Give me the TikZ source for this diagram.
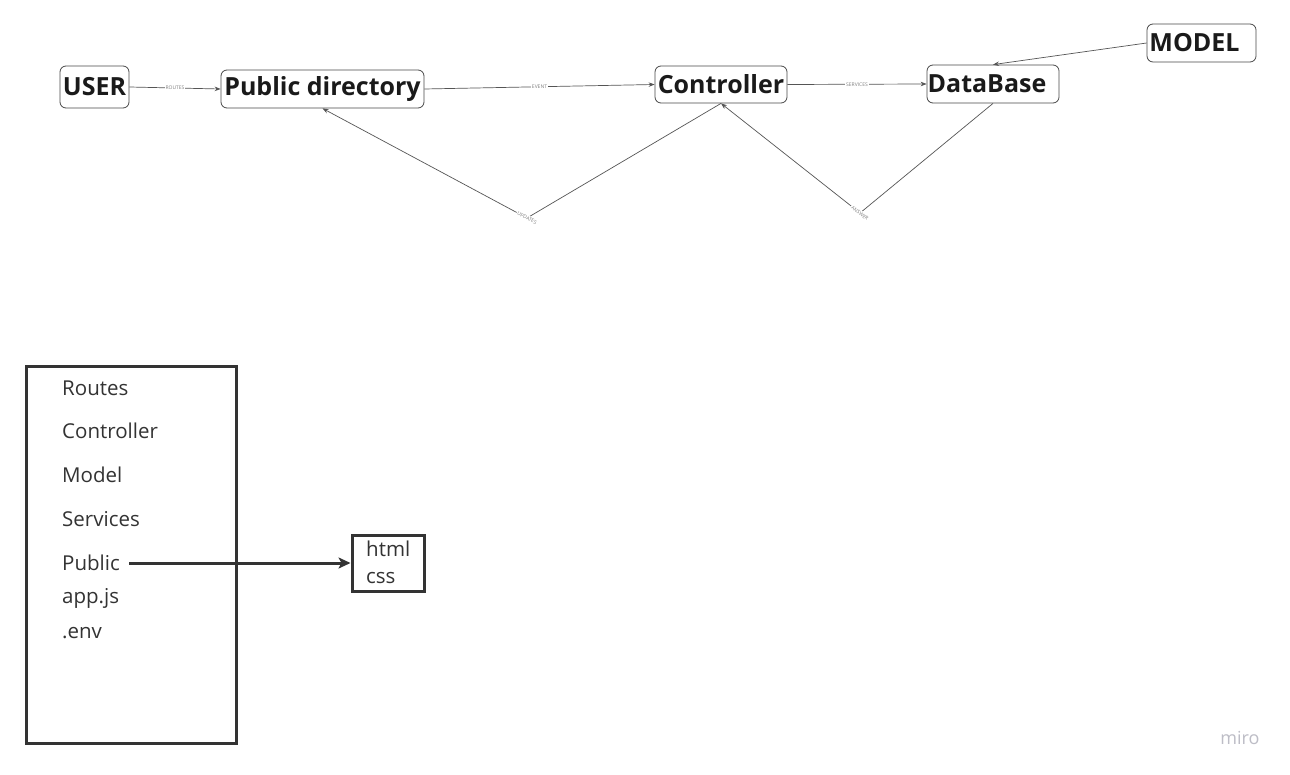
\documentclass[tikz,border=0pt]{standalone}
\usepackage{fontspec}
\setmainfont{Open Sans}
\usetikzlibrary{arrows.meta}
\definecolor{ink}{HTML}{1A1A1A}
\definecolor{edge}{HTML}{555555}
\definecolor{folder}{HTML}{333333}
\definecolor{wm}{HTML}{BDBDC6}
\tikzset{
  box/.style={draw=ink!80, line width=0.8pt, rounded corners=6pt, text=ink,
    font=\fontsize{25}{29}\selectfont\bfseries, inner sep=0pt},
  conn/.style={draw=edge, line width=0.7pt, -{Stealth[length=6pt,width=4.5pt]}},
  lbl/.style={font=\fontsize{5}{6}\selectfont, text=gray, fill=white, inner sep=1pt},
  item/.style={anchor=west, font=\fontsize{20.5}{24}\selectfont, text=folder, inner sep=0pt},
  thickbox/.style={draw=folder, line width=3pt, inner sep=0pt},
}
\begin{document}
\begin{tikzpicture}[x=1pt,y=-1pt]
\useasboundingbox[fill=white] (0,0) rectangle (1290,775);
% top nodes
\node[box, minimum width=69pt, minimum height=42pt] (user) at (94.5,87) {USER};
\node[box, minimum width=203pt, minimum height=38pt] (pub) at (322.5,89) {Public directory};
\node[box, minimum width=132pt, minimum height=37pt] (ctrl) at (721,84.5) {Controller};
\node[box, minimum width=132pt, minimum height=38pt] (db) at (993,84) {\hspace*{-12pt}DataBase};
\node[box, minimum width=109pt, minimum height=38pt] (model) at (1201.5,43) {\hspace*{-14pt}MODEL};
% bends
\coordinate (u) at (527,218);
\coordinate (a) at (860,213);
% connectors
\draw[conn] (user.east) -- node[lbl]{ROUTES} (pub.west);
\draw[conn] (pub.east) -- node[lbl]{EVENT} (ctrl.west);
\draw[conn] (ctrl.east) -- node[lbl]{SERVICES} (db.west);
\draw[conn] (model.west) -- (db.north);
\draw[conn] (ctrl.south) -- (u) -- (pub.south);
\draw[conn] (db.south) -- (a) -- (ctrl.south);
\node[lbl, rotate=-28] at (u) {UPDATES};
\node[lbl, rotate=-38] at (a) {ANSWER};
% folder box
\node[thickbox, minimum width=210pt, minimum height=376pt] (fold) at (131,555) {};
\node[item] (i1) at (62,388) {Routes};
\node[item] (i2) at (62,431) {Controller};
\node[item] (i3) at (62,475) {Model};
\node[item] (i4) at (62,519) {Services};
\node[item] (i5) at (62,563) {Public};
\node[item] (i6) at (62,598) {app.js};
\node[item] (i7) at (62,633) {.env};
% public box
\node[thickbox, minimum width=72pt, minimum height=56pt] (web) at (388,563) {};
\node[item] (h1) at (366,549) {html};
\node[item] (h2) at (366,578) {css};
\draw[draw=folder, line width=3pt, -{Stealth[length=12pt,width=11pt,inset=3pt]}] ([xshift=9pt]i5.east) -- (web.west);
% watermark
\node[font=\fontsize{18}{20}\selectfont, text=wm, inner sep=0pt] (miro) at (1240,738) {miro};
\end{tikzpicture}
\end{document}
